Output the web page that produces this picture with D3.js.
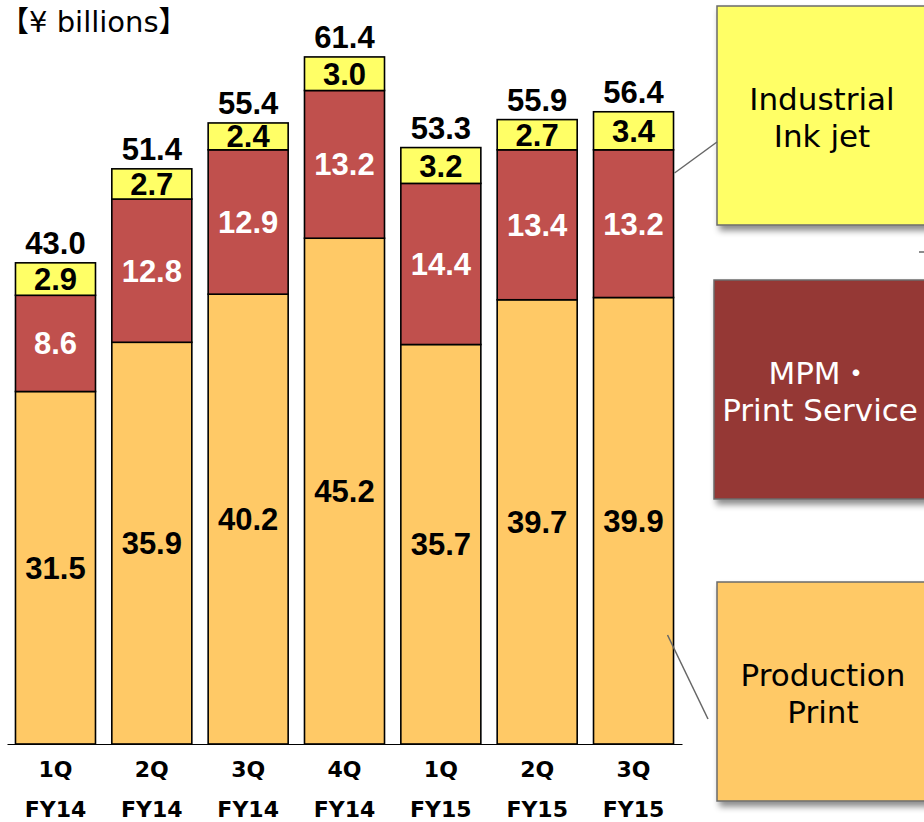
<!DOCTYPE html>
<html>
<head>
<meta charset="utf-8">
<script src="https://cdn.jsdelivr.net/npm/d3@7"></script>
<style>
  html, body { margin: 0; padding: 0; background: #fff; }
  svg { display: block; }
</style>
</head>
<body>
<svg id="chart" width="924" height="822"></svg>
<script>
// ---- data ----
const quarters = ["1Q", "2Q", "3Q", "4Q", "1Q", "2Q", "3Q"];
const fiscalYears = ["FY14", "FY14", "FY14", "FY14", "FY15", "FY15", "FY15"];
const productionPrint = [31.5, 35.9, 40.2, 45.2, 35.7, 39.7, 39.9];
const mpmPrintService = [8.6, 12.8, 12.9, 13.2, 14.4, 13.4, 13.2];
const industrialInkjet = [2.9, 2.7, 2.4, 3.0, 3.2, 2.7, 3.4];
const totals = [43.0, 51.4, 55.4, 61.4, 53.3, 55.9, 56.4];
const seriesNames = ["Production Print", "MPM・Print Service", "Industrial Ink jet"];
const unitLabel = "【¥ billions】";

// ---- build stack ----
const keys = ["prod", "mpm", "ink"];
const rows = quarters.map((q, i) => ({
  id: i, q, fy: fiscalYears[i],
  prod: productionPrint[i], mpm: mpmPrintService[i], ink: industrialInkjet[i],
  total: totals[i]
}));
const stacked = d3.stack().keys(keys)(rows);

const colors = { prod: "#FFC966", mpm: "#C0504D", ink: "#FFFF66" };
const textColors = { prod: "#000", mpm: "#fff", ink: "#000" };

const svg = d3.select("#chart");

const defs = svg.append("defs");
const f = defs.append("filter").attr("id", "shadow")
  .attr("x", "-10%").attr("y", "-10%").attr("width", "130%").attr("height", "130%");
f.append("feDropShadow").attr("dx", 3).attr("dy", 5).attr("stdDeviation", 3)
  .attr("flood-color", "#000").attr("flood-opacity", 0.45);

const baseline = 744;
const pxPerUnit = 11.19;
const y = d3.scaleLinear().domain([0, 65]).range([baseline, baseline - 65 * pxPerUnit]);
const x = d3.scaleBand().domain(rows.map(d => d.id)).range([7, 682])
  .paddingInner(0.1695).paddingOuter(0.088);

// bars
const layer = svg.append("g");
stacked.forEach(s => {
  layer.selectAll(null).data(s).join("rect")
    .attr("x", d => x(d.data.id))
    .attr("y", d => y(d[1]))
    .attr("width", x.bandwidth())
    .attr("height", d => y(d[0]) - y(d[1]))
    .attr("fill", colors[s.key])
    .attr("stroke", "#000")
    .attr("stroke-width", 1.6);
});

// segment labels
const valFont = "'Liberation Sans', Arial, sans-serif";
const valSize = 31;
stacked.forEach(s => {
  layer.selectAll(null).data(s).join("text")
    .attr("x", d => x(d.data.id) + x.bandwidth() / 2)
    .attr("y", d => (y(d[0]) + y(d[1])) / 2 + 0.358 * valSize)
    .attr("text-anchor", "middle")
    .attr("font-family", valFont)
    .attr("font-weight", "bold")
    .attr("font-size", valSize)
    .attr("fill", textColors[s.key])
    .text(d => d.data[s.key].toFixed(1));
});

// total labels
layer.selectAll(null).data(rows).join("text")
  .attr("x", d => x(d.id) + x.bandwidth() / 2)
  .attr("y", d => y(d.prod + d.mpm + d.ink) - 9)
  .attr("text-anchor", "middle")
  .attr("font-family", valFont)
  .attr("font-weight", "bold")
  .attr("font-size", valSize)
  .attr("fill", "#000")
  .text(d => d.total.toFixed(1));

// baseline axis
const axis = d3.axisBottom(x).tickSize(0).tickFormat(() => "");
const ax = svg.append("g").attr("transform", `translate(0,${baseline})`).call(axis);
ax.select(".domain").attr("stroke", "#000").attr("stroke-width", 1.2);

// x labels
const axFont = "'DejaVu Sans', Verdana, sans-serif";
svg.append("g").selectAll("text").data(rows).join("text")
  .attr("x", d => x(d.id) + x.bandwidth() / 2)
  .attr("y", 777)
  .attr("text-anchor", "middle")
  .attr("font-family", axFont).attr("font-weight", "bold").attr("font-size", 22)
  .text(d => d.q);
svg.append("g").selectAll("text").data(rows).join("text")
  .attr("x", d => x(d.id) + x.bandwidth() / 2)
  .attr("y", 817)
  .attr("text-anchor", "middle")
  .attr("font-family", axFont).attr("font-weight", "bold").attr("font-size", 22)
  .text(d => d.fy);

// unit label
svg.append("text")
  .attr("x", 0).attr("y", 32)
  .attr("font-family", "'DejaVu Sans', 'Noto Sans CJK JP', sans-serif")
  .attr("font-size", 29)
  .text(unitLabel);

// legend boxes (callouts)
const lastX = x(rows[rows.length - 1].id) + x.bandwidth();
const legend = [
  { key: "ink", x: 717, y: 6, h: 219, lines: ["Industrial", "Ink jet"], base: 110, fill: "#FFFF66", tc: "#000", cx: 822 },
  { key: "mpm", x: 714, y: 280, h: 219, lines: ["MPM・", "Print Service"], base: 384, fill: "#953735", tc: "#fff", cx: 820 },
  { key: "prod", x: 717, y: 582, h: 219, lines: ["Production", "Print"], base: 686, fill: "#FFC966", tc: "#000", cx: 823 }
];
const lg = svg.append("g");
legend.forEach(L => {
  lg.append("rect").attr("x", L.x).attr("y", L.y).attr("width", 240).attr("height", L.h)
    .attr("fill", L.fill).attr("stroke", "#6b6b6b").attr("stroke-width", 1.5)
    .attr("filter", "url(#shadow)");
  L.lines.forEach((t, i) => {
    lg.append("text").attr("x", L.cx).attr("y", L.base + i * 37)
      .attr("text-anchor", "middle")
      .attr("font-family", "'DejaVu Sans', Verdana, 'Noto Sans CJK JP', sans-serif")
      .attr("font-size", 31).attr("fill", L.tc).text(t);
  });
});

// connector lines
const conn = [
  [lastX + 1, 173, 717, 142],
  [lastX - 6, 635, 708, 719],
  [919, 252, 924, 252]
];
lg.selectAll("line").data(conn).join("line")
  .attr("x1", d => d[0]).attr("y1", d => d[1]).attr("x2", d => d[2]).attr("y2", d => d[3])
  .attr("stroke", "#666").attr("stroke-width", 1.5);
</script>
</body>
</html>
